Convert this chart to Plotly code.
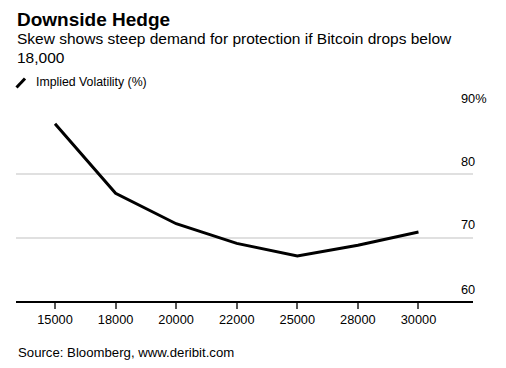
import plotly.graph_objects as go

strikes = ["15000", "18000", "20000", "22000", "25000", "28000", "30000"]
implied_vol = [88.0, 77.0, 72.2, 69.1, 67.1, 68.8, 70.9]
y_ticks = [60, 70, 80, 90]
y_tick_labels = ["60", "70", "80", "90%"]

title = "Downside Hedge"
subtitle_lines = ["Skew shows steep demand for protection if Bitcoin drops below", "18,000"]
legend_label = "Implied Volatility (%)"
source = "Source: Bloomberg, www.deribit.com"

# page body has an 8px default margin; work in target-page pixels and offset
OFF = 8
W, H = 506 - OFF, 368 - OFF
L, R, T, B = 16 - OFF, 33, 111 - OFF, 67
pw, ph = W - L - R, H - T - B
FONT = "Liberation Sans, Arial, sans-serif"


def px(x):
    return (x - OFF - L) / pw


def py(y):
    return (H - B - (y - OFF)) / ph


fig = go.Figure()
fig.add_trace(go.Scatter(
    x=strikes, y=implied_vol, mode="lines",
    line=dict(color="black", width=3),
    name=legend_label, showlegend=False, hoverinfo="skip",
))

annotations = [
    dict(text="<b>" + title + "</b>", x=px(16), y=py(8), xref="paper", yref="paper",
         xanchor="left", yanchor="top", showarrow=False, borderpad=0,
         font=dict(family=FONT, size=19, color="black")),
    dict(text=subtitle_lines[0], x=px(16), y=py(39), xref="paper", yref="paper",
         xanchor="left", yanchor="middle", showarrow=False, borderpad=0,
         font=dict(family=FONT, size=15.5, color="black")),
    dict(text=subtitle_lines[1], x=px(16), y=py(57.5), xref="paper", yref="paper",
         xanchor="left", yanchor="middle", showarrow=False, borderpad=0,
         font=dict(family=FONT, size=15.5, color="black")),
    dict(text=legend_label, x=px(34), y=py(81.5), xref="paper", yref="paper",
         xanchor="left", yanchor="middle", showarrow=False,
         font=dict(family=FONT, size=12.3, color="black")),
    dict(text=source, x=px(16), y=py(352), xref="paper", yref="paper",
         xanchor="left", yanchor="middle", showarrow=False,
         font=dict(family=FONT, size=13.2, color="black")),
]
for v, lab in zip(y_ticks, y_tick_labels):
    annotations.append(dict(
        text=lab, x=px(459), y=v, xref="paper", yref="y",
        xanchor="left", yanchor="middle", yshift=13 if v != 60 else 12,
        showarrow=False, font=dict(family=FONT, size=12.8, color="black")))

shapes = [
    dict(type="line", xref="paper", yref="paper",
         x0=px(16.5), y0=py(87.5), x1=px(25), y1=py(78.5),
         line=dict(color="black", width=3)),
]

fig.update_layout(
    width=W, height=H,
    margin=dict(l=L, r=R, t=T, b=B),
    paper_bgcolor="white", plot_bgcolor="white",
    annotations=annotations, shapes=shapes,
    font=dict(family=FONT, color="black"),
    xaxis=dict(
        type="category", range=[-0.644, 6.9],
        showgrid=False, zeroline=False,
        showline=True, linecolor="black", linewidth=1.5,
        ticks="outside", ticklen=6, tickcolor="#555", tickwidth=1.5,
        tickfont=dict(family=FONT, size=12.8, color="black"),
    ),
    yaxis=dict(
        range=[60, 90], tickvals=y_ticks, showticklabels=False,
        showgrid=True, gridcolor="#e0e0e0", gridwidth=1.5,
        zeroline=False, showline=False, fixedrange=True,
    ),
)

fig.write_html("out.html")
